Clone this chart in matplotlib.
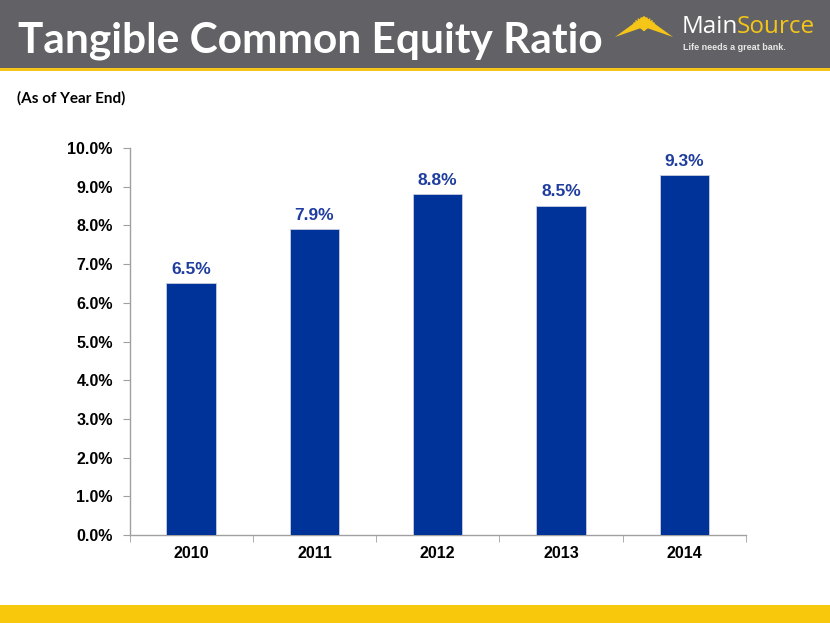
import matplotlib
matplotlib.use("Agg")
import matplotlib.pyplot as plt
from matplotlib.patches import Rectangle, Polygon
import numpy as np

years = ["2010", "2011", "2012", "2013", "2014"]
ratios = [6.5, 7.9, 8.8, 8.5, 9.3]
labels = ["6.5%", "7.9%", "8.8%", "8.5%", "9.3%"]
yticks = [0, 1, 2, 3, 4, 5, 6, 7, 8, 9, 10]
ytick_labels = [f"{v:.1f}%" for v in yticks]

W, H = 830, 623
fig = plt.figure(figsize=(W / 100, H / 100), dpi=100)
fig.patch.set_facecolor("white")

def fx(px):
    return px / W

def fy(py):
    return 1 - py / H

# header band
fig.patches.append(Rectangle((0, fy(68)), 1, 68 / H, transform=fig.transFigure,
                             facecolor="#626266", edgecolor="none", zorder=0))
fig.patches.append(Rectangle((0, fy(71)), 1, 3 / H, transform=fig.transFigure,
                             facecolor="#F5C518", edgecolor="none", zorder=0))
# bottom band
fig.patches.append(Rectangle((0, 0), 1, 18 / H, transform=fig.transFigure,
                             facecolor="#F8C80C", edgecolor="none", zorder=0))

fig.text(fx(18), fy(41), "Tangible Common Equity Ratio", color="white",
         fontsize=30.5, fontweight="bold", family="Lato", va="center", ha="left")
fig.text(fx(17), fy(98), "(As of Year End)", color="black",
         fontsize=11, fontweight="bold", family="Lato", va="center", ha="left")

# logo roof with rays
roof = Polygon([[fx(615), fy(37)], [fx(644), fy(16)], [fx(673), fy(37)], [fx(644), fy(27)]],
               closed=True, transform=fig.transFigure, facecolor="#F5C518", edgecolor="none")
fig.patches.append(roof)
for ang in np.linspace(35, 145, 9):
    r = np.deg2rad(ang)
    fig.add_artist(plt.Line2D([fx(644), fx(644 + 12 * np.cos(r))],
                              [fy(30), fy(30 - 12 * np.sin(r))],
                              transform=fig.transFigure, color="#F5C518", lw=1.2))
t_main = fig.text(fx(682), fy(27), "Main", color="white", fontsize=17.5, family="Open Sans",
                  va="center", ha="left")
fig.canvas.draw()
bb = t_main.get_window_extent(renderer=fig.canvas.get_renderer())
fig.text(bb.x1 / W - fx(2), fy(27), "Source", color="#F5C518", fontsize=17.5,
         family="Open Sans", va="center", ha="left")
fig.text(fx(683), fy(48), "Life needs a great bank.", color="#e8e8e8", fontsize=6.5,
         fontweight="bold", family="Liberation Sans", va="center", ha="left")

# axes
left, right, top, bottom = 129.5, 746, 148, 535
ax = fig.add_axes([fx(left), fy(bottom), (right - left) / W, (bottom - top) / H])
x = np.arange(len(years))
ax.bar(x, ratios, width=0.4, color="#003399", edgecolor="#c8cde0", linewidth=0.6, zorder=3)
for xi, v, lab in zip(x, ratios, labels):
    ax.text(xi, v + 0.17, lab, ha="center", va="bottom", color="#1F3D9E",
            fontsize=12.5, fontweight="bold", family="Liberation Sans")

ax.set_xlim(-0.5, len(years) - 0.5)
ax.set_ylim(0, 10)
ax.set_yticks(yticks)
ax.set_yticklabels(ytick_labels, fontsize=11.5, fontweight="bold", family="Liberation Sans")
ax.set_xticks(x)
ax.set_xticklabels(years, fontsize=11.5, fontweight="bold", family="Liberation Sans")
ax.set_xticks(np.arange(-0.5, len(years), 1.0), minor=True)
ax.tick_params(axis="x", which="major", length=0, pad=8)
ax.tick_params(axis="x", which="minor", length=5, color="#a0a0a0")
ax.tick_params(axis="y", length=5, color="#a0a0a0", pad=7)
for s in ["top", "right"]:
    ax.spines[s].set_visible(False)
for s in ["left", "bottom"]:
    ax.spines[s].set_color("#a0a0a0")
    ax.spines[s].set_linewidth(1)

fig.savefig("out.png", dpi=100, facecolor="white")
